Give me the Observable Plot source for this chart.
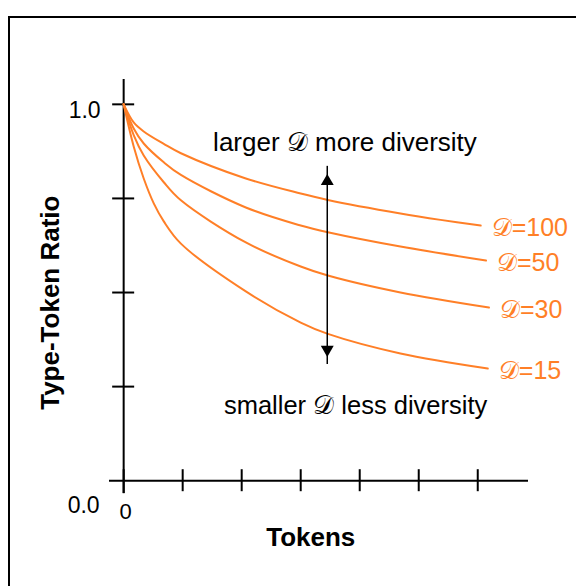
<!DOCTYPE html>
<html><head><meta charset="utf-8">
<script src="https://cdn.jsdelivr.net/npm/d3@7"></script>
<script src="https://cdn.jsdelivr.net/npm/@observablehq/plot@0.6"></script>
<style>
html,body{margin:0;padding:0;background:#fff;overflow:hidden;width:576px;height:586px}
#frame{position:absolute;left:8px;top:16px;width:620px;height:620px;border:2px solid #000;box-sizing:border-box}
#chart{position:absolute;left:0;top:0}
</style></head><body>
<div id="frame"></div>
<div id="chart"></div>
<script>
// Series labels
const seriesNames = ["𝒟=100", "𝒟=50", "𝒟=30", "𝒟=15"];
// Tokens (x) and type-token ratio (y), per series
const tokensD100 = [0, 17, 34, 68, 97, 207, 300, 346, 469, 537, 605];
const ttrD100    = [1.0, 0.952, 0.928, 0.895, 0.870, 0.803, 0.763, 0.746, 0.710, 0.693, 0.678];
const tokensD50  = [0, 17, 34, 68, 97, 207, 300, 346, 469, 614];
const ttrD50     = [1.0, 0.936, 0.896, 0.846, 0.8125, 0.726, 0.678, 0.660, 0.622, 0.585];
const tokensD30  = [0, 17, 34, 68, 97, 207, 300, 346, 469, 619];
const ttrD30     = [1.0, 0.918, 0.864, 0.793, 0.745, 0.633, 0.569, 0.545, 0.500, 0.460];
const tokensD15  = [0, 17, 34, 51, 68, 97, 207, 300, 346, 469, 617];
const ttrD15     = [1.0, 0.888, 0.803, 0.737, 0.689, 0.630, 0.503, 0.420, 0.390, 0.338, 0.298];
// Axis ticks
const xTicks = [100, 200, 300, 400, 500, 600];
const yTicks = [0.25, 0.5, 0.75, 1.0];

const tokenArrays = [tokensD100, tokensD50, tokensD30, tokensD15];
const ttrArrays = [ttrD100, ttrD50, ttrD30, ttrD15];
const rows = [];
seriesNames.forEach((s, i) => tokenArrays[i].forEach((t, j) => rows.push({series: s, tokens: t, ttr: ttrArrays[i][j]})));
const ends = seriesNames.map((s, i) => ({series: s, tokens: tokenArrays[i].at(-1), ttr: ttrArrays[i].at(-1)}));

const orange = "#ff7f27";
const font = "Liberation Sans, Arial, Helvetica, sans-serif";

const chart = Plot.plot({
  width: 576,
  height: 586,
  marginLeft: 109,
  marginRight: 48,
  marginTop: 79,
  marginBottom: 93,
  style: {fontFamily: font, background: "transparent", overflow: "visible"},
  x: {domain: [-24, 686], axis: null},
  y: {domain: [-0.034, 1.066], axis: null},
  marks: [
    // axis lines
    Plot.ruleX([0], {stroke: "#000", strokeWidth: 2}),
    Plot.ruleY([0], {stroke: "#000", strokeWidth: 2}),
    // ticks crossing the axes
    Plot.ruleY(yTicks, {x1: 0, x2: 0, insetLeft: -11, insetRight: -11, stroke: "#000", strokeWidth: 2}),
    Plot.ruleX(xTicks, {y1: 0, y2: 0, insetTop: -11, insetBottom: -11, stroke: "#000", strokeWidth: 2}),
    Plot.ruleX([0], {y1: 0, y2: 0, insetTop: -11, insetBottom: -13, stroke: "#000", strokeWidth: 2}),
    // tick labels
    Plot.text(["1.0"], {x: 0, y: 1.0, text: d => d, textAnchor: "end", dx: -23, dy: 6, fontSize: 23, fill: "#000"}),
    Plot.text(["0.0"], {x: 0, y: 0.0, text: d => d, textAnchor: "end", dx: -24, dy: 25, fontSize: 23, fill: "#000"}),
    Plot.text(["0"], {x: 0, y: 0, text: d => d, dx: 2, dy: 31, fontSize: 22, fill: "#000"}),
    // curves
    Plot.line(rows, {x: "tokens", y: "ttr", z: "series", stroke: orange, strokeWidth: 2, curve: "catmull-rom"}),
    // series labels
    Plot.text(ends, {x: "tokens", y: "ttr", text: "series", textAnchor: "start", dx: 11, dy: 2, fontSize: 25, fill: orange}),
    // arrow
    Plot.ruleX([345], {y1: 0.33, y2: 0.814, insetTop: 8, insetBottom: 8, stroke: "#000", strokeWidth: 1.5}),
    Plot.dot([0.814], {x: 345, y: d => d, symbol: "triangle", r: 4.8, fill: "#000", stroke: "none", dy: 7}),
    Plot.dot([0.33], {x: 345, y: d => d, symbol: "triangle", r: 4.8, fill: "#000", stroke: "none", rotate: 180, dy: -7}),
    // annotations
    Plot.text(["larger 𝒟 more diversity"], {x: 375, y: 0.899, text: d => d, fontSize: 26, fill: "#000"}),
    Plot.text(["smaller 𝒟 less diversity"], {x: 393, y: 0.199, text: d => d, fontSize: 25.5, fill: "#000"}),
    // axis titles
    Plot.text(["Tokens"], {x: 317, y: -0.152, text: d => d, fontSize: 26, fontWeight: "bold", fill: "#000"}),
    Plot.text(["Type-Token Ratio"], {x: -124, y: 0.473, text: d => d, rotate: -90, fontSize: 26, fontWeight: "bold", fill: "#000"})
  ]
});
document.getElementById("chart").appendChild(chart);
</script>
</body></html>
